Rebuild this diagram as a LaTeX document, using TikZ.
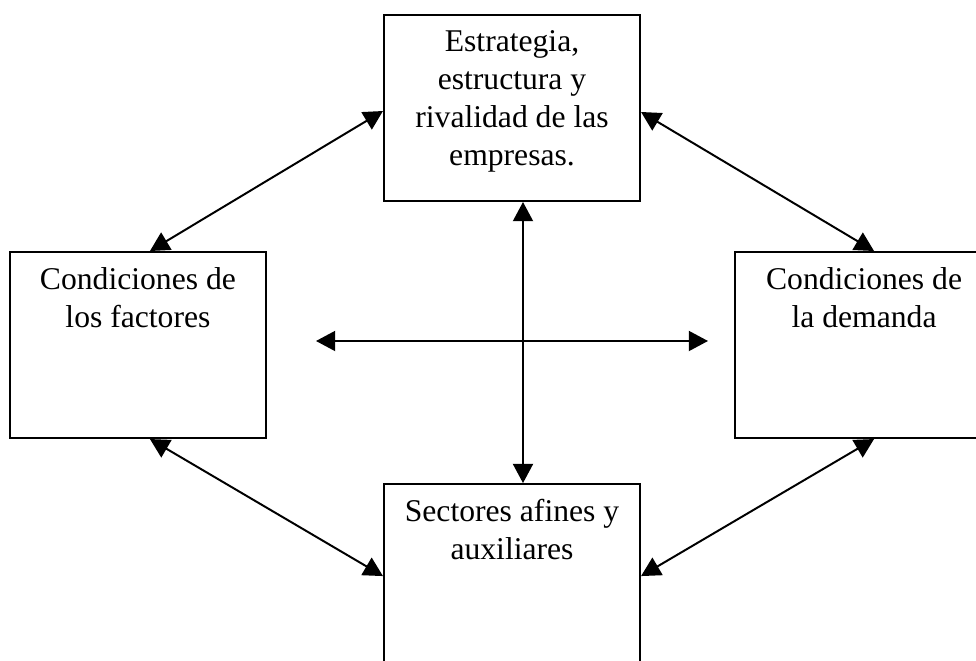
\documentclass[tikz,border=0pt]{standalone}
\usepackage{fontspec}
\setmainfont{Liberation Serif}
\usepackage{tikz}
\usetikzlibrary{positioning,calc,arrows.meta}
\tikzstyle{caja}=[rectangle, draw=black, line width=1.4pt, fill=white,
        minimum width=6.4cm, minimum height=4.65cm, inner sep=0pt]
\tikzstyle{texto}=[anchor=north, align=center, inner sep=0pt, yshift=-0.4cm,
        font=\fontsize{22.5}{27}\selectfont]
\tikzstyle{flecha}=[line width=1.4pt, {Triangle[length=0.48cm,width=0.5cm]}-{Triangle[length=0.48cm,width=0.5cm]}]

\begin{document}
\begin{tikzpicture}[x=0.025cm, y=-0.025cm]
        \useasboundingbox (0,0) rectangle (976,661);
        \clip (0,0) rectangle (976,661);
        \node (Estrategia) [caja, anchor=north west,
          label={[texto]north:{Estrategia,\\estructura y\\rivalidad de las\\empresas.}}]
          at (383,14) {};
        \node (Factores) [caja, below left=1.225cm and 2.9cm of Estrategia,
          label={[texto]north:{Condiciones de\\los factores}}] {};
        \node (Demanda) [caja, minimum width=6.05cm, below right=1.225cm and 2.325cm of Estrategia,
          label={[texto, xshift=0.2cm]north:{Condiciones de\\la demanda}}] {};
        \node (Sectores) [caja, minimum height=5.5cm, below=7.025cm of Estrategia,
          label={[texto]north:{Sectores afines y\\auxiliares}}] {};
        % cruce central
        \coordinate (izq) at (316,341);
        \coordinate (der) at (708,341);
        \draw [flecha] (izq) -- (der);
        \draw [flecha] ($(Estrategia.south west)+(140,0)$) -- ($(Sectores.north west)+(140,0)$);
        % diagonales
        \draw [flecha] ($(Factores.north west)+(141,0)$) -- ($(Estrategia.north west)+(0,97)$);
        \draw [flecha] ($(Demanda.north west)+(140,0)$) -- ($(Estrategia.north east)+(0,98)$);
        \draw [flecha] ($(Factores.south west)+(141,0)$) -- ($(Sectores.north west)+(0,93)$);
        \draw [flecha] ($(Demanda.south west)+(140,0)$) -- ($(Sectores.north east)+(0,93)$);
      \end{tikzpicture}
\end{document}
